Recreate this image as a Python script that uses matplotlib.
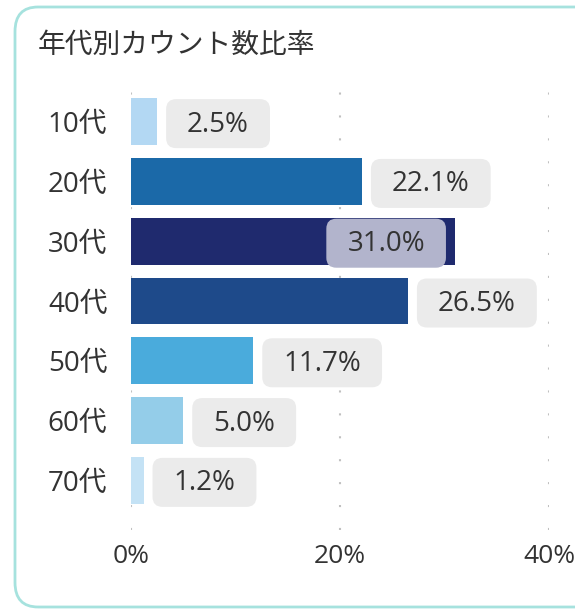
import matplotlib
matplotlib.use("Agg")
import matplotlib.pyplot as plt
from matplotlib.patches import FancyBboxPatch

plt.rcParams['font.family'] = ['Open Sans', 'Noto Sans CJK JP', 'DejaVu Sans']

categories = ["10代", "20代", "30代", "40代", "50代", "60代", "70代"]
values = [2.5, 22.1, 31.0, 26.5, 11.7, 5.0, 1.2]
colors = ["#b3d8f3", "#1b69a8", "#1f2a6e", "#1e4a8a", "#4aabdc", "#94cde9", "#c4e2f5"]
xticks = [0, 20, 40]
xticklabels = ["0%", "20%", "40%"]
title = "年代別カウント数比率"

W, H = 575, 613
fig = plt.figure(figsize=(W / 100, H / 100), dpi=100)

# card border
card = FancyBboxPatch((15 / W, 6 / H), 600 / W, 600 / H,
                      boxstyle="round,pad=0,rounding_size=0.04",
                      transform=fig.transFigure, fc="none", ec="#a6e2de", lw=2, zorder=-1)
fig.patches.append(card)

ax = fig.add_axes([131 / W, 1 - 530 / H, (549 - 131) / W, (530 - 75) / H])
ax.set_facecolor("none")
ypos = list(range(len(categories)))
ax.barh(ypos, values, height=0.78, color=colors, zorder=2)
ax.set_xlim(0, 40)
ax.set_ylim(6.83, -0.78)
ax.set_yticks(ypos)
ax.set_yticklabels(categories, fontsize=20, color="#333333")
ax.set_xticks(xticks)
ax.set_xticklabels(xticklabels, fontsize=19, color="#333333")
ax.tick_params(axis="both", length=0)
ax.tick_params(axis="y", pad=17)
ax.tick_params(axis="x", pad=10)
for s in ax.spines.values():
    s.set_visible(False)
ax.grid(axis="x", color="#c0c0c0", linestyle=(0, (1, 10)), lw=1.5, zorder=1)
ax.set_axisbelow(True)

texts = []
for i, v in enumerate(values):
    label = f"{v:.1f}%"
    inside = v >= 30
    off = -30 if inside else 30
    t = ax.annotate(label, xy=(v, i), xytext=(off, -3), textcoords="offset pixels",
                    ha="right" if inside else "left", va="center",
                    fontsize=20, color="#333333", zorder=5)
    texts.append((t, i, v, inside))

fig.canvas.draw()
renderer = fig.canvas.get_renderer()
for t, i, v, inside in texts:
    bb = t.get_window_extent(renderer)
    _, yc = ax.transData.transform((v, i))
    bw = bb.width + 42
    bh = 49
    cx = (bb.x0 + bb.x1) / 2
    fc = "#b2b4cc" if inside else "#ebebeb"
    p = FancyBboxPatch((cx - bw / 2, yc - bh / 2 - 2), bw, bh,
                       boxstyle="round,pad=0,rounding_size=10",
                       transform=None, fc=fc, ec="none", zorder=4)
    ax.add_artist(p)

fig.text(38 / W, 1 - 45 / H, title, fontsize=20, color="#333333", va="center", ha="left",
         family=["Noto Sans CJK JP"])

fig.savefig("out.png", dpi=100)
